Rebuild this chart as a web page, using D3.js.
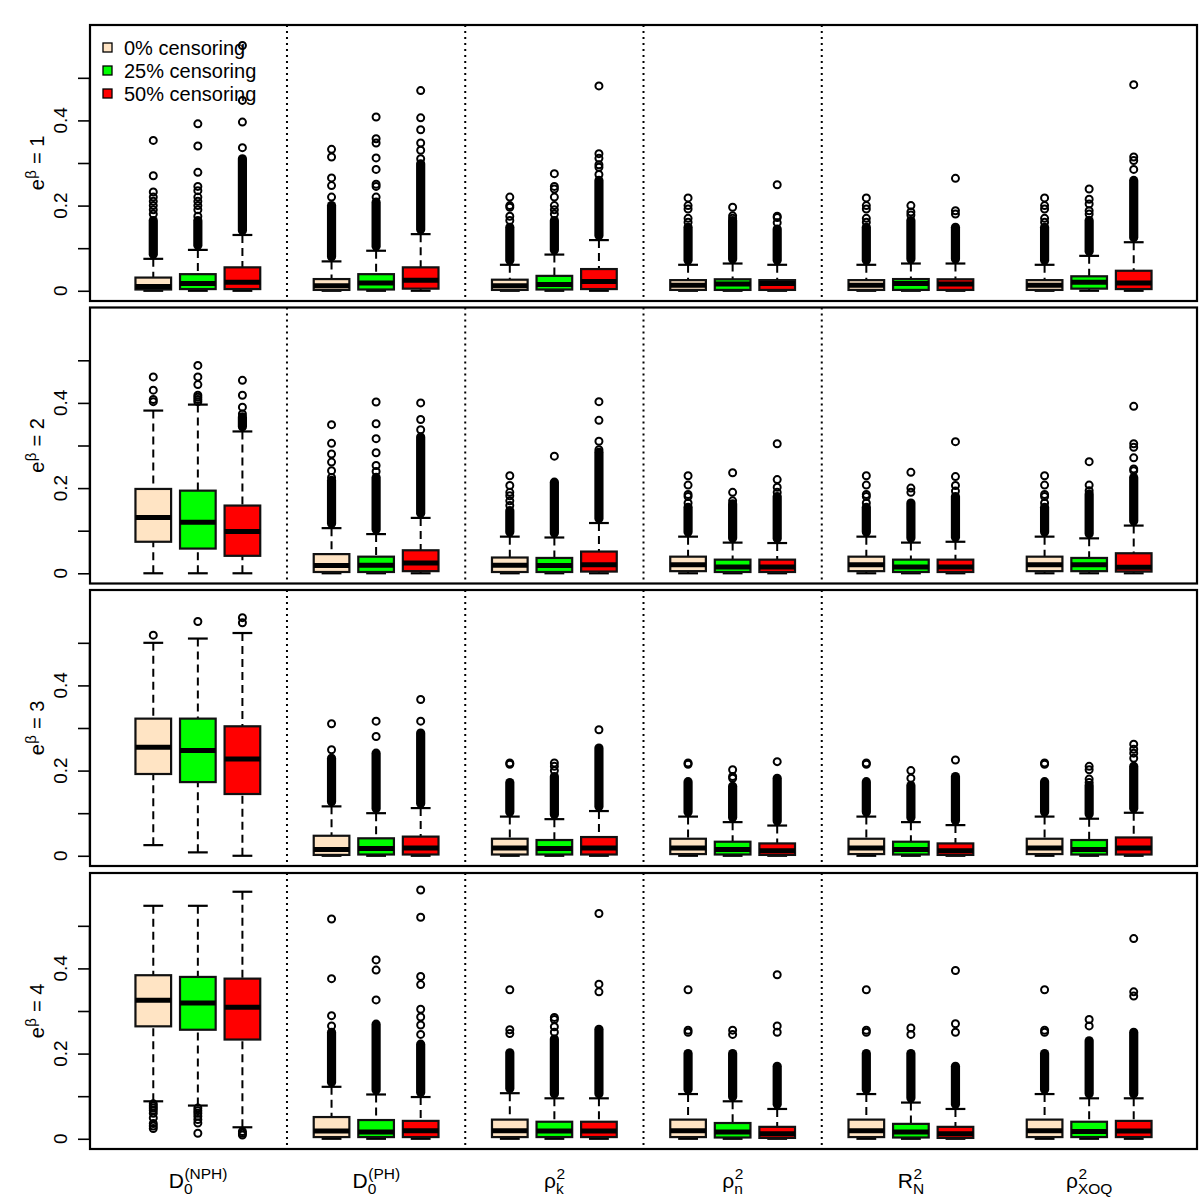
<!DOCTYPE html>
<html><head><meta charset="utf-8">
<script src="https://cdn.jsdelivr.net/npm/d3@7"></script>
<style>body{margin:0;background:#fff} svg{display:block}</style>
</head><body>
<svg id="chart" width="1200" height="1200"></svg>
<script>
// ---------- DATA ----------
const groupLabels = [
  {base: "D", sub: "0", sup: "(NPH)"},
  {base: "D", sub: "0", sup: "(PH)"},
  {base: "ρ", sub: "k", sup: "2"},
  {base: "ρ", sub: "n", sup: "2"},
  {base: "R", sub: "N", sup: "2"},
  {base: "ρ", sub: "XOQ", sup: "2"}
];
const censoringLabels = ["0% censoring", "25% censoring", "50% censoring"];
const panelValues = ["1", "2", "3", "4"];           // e^beta = value
const yTicks = [0, 0.1, 0.2, 0.3, 0.4, 0.5];
const yTickLabels = ["0", "", "0.2", "", "0.4", ""];

// per panel: 18 boxes = 6 statistics x 3 censoring levels
const lowerWhisker = [
  [0,0,0, 0,0,0, 0,0,0, 0,0,0, 0,0,0, 0,0,0],
  [0,0,0, 0,0,0, 0,0,0, 0,0,0, 0,0,0, 0,0,0],
  [0.025,0.008,0, 0,0,0, 0,0,0, 0,0,0, 0,0,0, 0,0,0],
  [0.088,0.078,0.027, 0,0,0, 0,0,0, 0,0,0, 0,0,0, 0,0,0]
];
const q1 = [
  [0.003,0.004,0.004, 0.002,0.003,0.005, 0.002,0.003,0.004, 0.002,0.002,0.002, 0.002,0.002,0.002, 0.002,0.005,0.004],
  [0.074,0.058,0.041, 0.003,0.003,0.005, 0.003,0.003,0.004, 0.005,0.003,0.003, 0.005,0.003,0.003, 0.005,0.005,0.004],
  [0.192,0.173,0.145, 0.002,0.003,0.003, 0.003,0.003,0.003, 0.004,0.003,0.002, 0.004,0.003,0.002, 0.004,0.003,0.003],
  [0.264,0.256,0.233, 0.004,0.004,0.004, 0.004,0.004,0.004, 0.004,0.003,0.002, 0.004,0.003,0.002, 0.004,0.004,0.004]
];
const medians = [
  [0.010,0.017,0.020, 0.012,0.018,0.025, 0.012,0.015,0.022, 0.013,0.016,0.017, 0.013,0.017,0.016, 0.013,0.020,0.018],
  [0.131,0.120,0.098, 0.018,0.019,0.024, 0.019,0.018,0.020, 0.020,0.015,0.015, 0.020,0.015,0.015, 0.020,0.020,0.014],
  [0.255,0.247,0.227, 0.015,0.017,0.018, 0.018,0.017,0.018, 0.018,0.015,0.012, 0.018,0.015,0.012, 0.018,0.015,0.018],
  [0.325,0.319,0.309, 0.018,0.016,0.019, 0.019,0.018,0.018, 0.019,0.016,0.012, 0.019,0.016,0.012, 0.019,0.017,0.018]
];
const q3 = [
  [0.031,0.039,0.055, 0.0275,0.039,0.055, 0.026,0.035,0.051, 0.025,0.027,0.025, 0.025,0.0275,0.027, 0.025,0.034,0.047],
  [0.198,0.194,0.159, 0.045,0.039,0.054, 0.037,0.036,0.051, 0.039,0.032,0.032, 0.039,0.032,0.032, 0.039,0.036,0.047],
  [0.322,0.322,0.304, 0.047,0.041,0.045, 0.040,0.037,0.044, 0.040,0.033,0.029, 0.040,0.033,0.029, 0.040,0.037,0.043],
  [0.384,0.380,0.376, 0.051,0.044,0.042, 0.045,0.040,0.040, 0.045,0.037,0.028, 0.045,0.035,0.028, 0.045,0.040,0.042]
];
const upperWhisker = [
  [0.075,0.096,0.131, 0.069,0.094,0.133, 0.061,0.085,0.119, 0.061,0.064,0.061, 0.061,0.064,0.064, 0.061,0.082,0.114],
  [0.382,0.396,0.333, 0.106,0.092,0.130, 0.086,0.084,0.118, 0.086,0.072,0.071, 0.086,0.072,0.074, 0.086,0.082,0.112],
  [0.500,0.510,0.523, 0.116,0.100,0.112, 0.092,0.086,0.105, 0.092,0.079,0.071, 0.092,0.079,0.072, 0.092,0.087,0.101],
  [0.547,0.547,0.580, 0.122,0.104,0.098, 0.107,0.095,0.095, 0.105,0.088,0.070, 0.105,0.085,0.070, 0.105,0.095,0.095]
];
// top of the continuous run of outliers above the upper whisker (null = none)
const denseOutlierTop = [
  [0.165,0.165,0.310, 0.200,0.208,0.298, 0.149,0.165,0.259, 0.149,0.165,0.145, 0.149,0.165,0.149, 0.149,0.165,0.259],
  [null,null,0.367, 0.218,0.225,0.320, 0.147,0.214,0.284, 0.155,0.163,0.180, 0.155,0.165,0.180, 0.155,0.186,0.225],
  [null,null,null, 0.229,0.241,0.288, 0.172,0.186,0.253, 0.174,0.163,0.182, 0.174,0.165,0.186, 0.174,0.165,0.210],
  [null,null,null, 0.250,0.269,0.222, 0.202,0.234,0.257, 0.200,0.200,0.170, 0.200,0.200,0.170, 0.200,0.230,0.250]
];
// isolated outliers
const outliers = [
  [
    [0.18,0.19,0.2,0.21,0.22,0.232,0.27,0.353], [0.175,0.19,0.2,0.21,0.22,0.235,0.245,0.278,0.34,0.392], [0.336,0.396,0.447,0.576],
    [0.22,0.247,0.265,0.314,0.332], [0.22,0.245,0.25,0.285,0.312,0.347,0.357,0.408], [0.31,0.33,0.347,0.378,0.406,0.47],
    [0.165,0.175,0.196,0.2,0.22], [0.18,0.19,0.2,0.22,0.239,0.245,0.275], [0.273,0.29,0.296,0.311,0.322,0.481],
    [0.161,0.17,0.192,0.2,0.218], [0.17,0.176,0.196], [0.16,0.172,0.175,0.249],
    [0.161,0.17,0.192,0.2,0.218], [0.178,0.185,0.2], [0.18,0.188,0.264],
    [0.161,0.17,0.192,0.2,0.218], [0.18,0.188,0.204,0.215,0.239], [0.285,0.306,0.314,0.484]
  ],
  [
    [0.403,0.408,0.43,0.461], [0.403,0.408,0.413,0.418,0.443,0.461,0.488], [0.374,0.39,0.418,0.453],
    [0.225,0.241,0.261,0.28,0.305,0.349], [0.239,0.253,0.283,0.316,0.351,0.402], [0.337,0.361,0.4],
    [0.159,0.17,0.182,0.19,0.206,0.229], [0.275], [0.29,0.31,0.359,0.403],
    [0.165,0.18,0.185,0.207,0.229], [0.17,0.19,0.236], [0.19,0.202,0.22,0.304],
    [0.165,0.18,0.185,0.207,0.229], [0.19,0.2,0.237], [0.193,0.206,0.227,0.309],
    [0.165,0.18,0.185,0.207,0.229], [0.194,0.207,0.262], [0.241,0.245,0.271,0.296,0.304,0.392]
  ],
  [
    [0.518], [0.55], [0.547,0.559],
    [0.249,0.31], [0.28,0.316], [0.316,0.367],
    [0.215,0.218], [0.2,0.21,0.218], [0.296],
    [0.215,0.218], [0.182,0.186,0.202], [0.221],
    [0.215,0.218], [0.182,0.2], [0.225],
    [0.215,0.218], [0.172,0.18,0.202,0.21], [0.229,0.241,0.25,0.262]
  ],
  [
    [0.082,0.077,0.072,0.067,0.06,0.049,0.036,0.03,0.024], [0.072,0.066,0.06,0.053,0.045,0.037,0.013], [0.017,0.013,0.009],
    [0.265,0.289,0.376,0.516], [0.326,0.396,0.42], [0.245,0.267,0.286,0.304,0.362,0.381,0.52,0.584],
    [0.247,0.256,0.35], [0.25,0.263,0.28,0.285], [0.345,0.363,0.529],
    [0.25,0.255,0.35], [0.245,0.255], [0.25,0.265,0.385],
    [0.25,0.255,0.35], [0.245,0.26], [0.25,0.27,0.395],
    [0.25,0.255,0.35], [0.265,0.28], [0.335,0.345,0.47]
  ]
];

// ---------- STYLE / LAYOUT ----------
const colors = ["#FFE4C4", "#00FF00", "#FF0000"];
const FONT = "'Liberation Sans', Arial, Helvetica, sans-serif";
const left = 90, right = 1197;
const panelTops = [25, 307.5, 590, 873];
const panelH = 276;

const svg = d3.select("#chart");
svg.append("rect").attr("width", 1200).attr("height", 1200).attr("fill", "#fff");

const x = d3.scaleLinear().domain([-0.42, 24.42]).range([left, right]);
const boxHalf = (x(0.4) - x(0));
const capHalf = boxHalf / 2 + 1;

function mathLabel(parent, base, sub, sup, fs, sfs, subDy, supDy) {
  const g = parent.append("g");
  const t = g.append("text").attr("font-family", FONT).attr("font-size", fs).attr("x", 0).attr("y", 0).text(base);
  const w = t.node().getComputedTextLength();
  let ws = 0, wp = 0;
  if (sub) {
    const s = g.append("text").attr("font-family", FONT).attr("font-size", sfs).attr("x", w).attr("y", subDy).text(sub);
    ws = s.node().getComputedTextLength();
  }
  if (sup) {
    const s = g.append("text").attr("font-family", FONT).attr("font-size", sfs).attr("x", w + 0.5).attr("y", supDy).text(sup);
    wp = s.node().getComputedTextLength();
  }
  return {g, width: w + Math.max(ws, wp)};
}

panelTops.forEach((top, p) => {
  const y = d3.scaleLinear().domain([-0.024, 0.624]).range([top + panelH, top]);
  const pg = svg.append("g");

  // dotted separators
  [4, 8, 12, 16].forEach(pos => {
    pg.append("line").attr("x1", x(pos)).attr("x2", x(pos))
      .attr("y1", top).attr("y2", top + panelH)
      .attr("stroke", "#000").attr("stroke-width", 2).attr("stroke-dasharray", "2,4");
  });

  // boxplots
  for (let gi = 0; gi < 6; gi++) {
    for (let c = 0; c < 3; c++) {
      const i = gi * 3 + c;
      const cx = x(4 * gi + c + 1);
      const bg = pg.append("g");
      const lo = lowerWhisker[p][i], a = q1[p][i], m = medians[p][i], b = q3[p][i], hi = upperWhisker[p][i];
      // whiskers (dashed)
      bg.append("line").attr("x1", cx).attr("x2", cx).attr("y1", y(hi)).attr("y2", y(b))
        .attr("stroke", "#000").attr("stroke-width", 2).attr("stroke-dasharray", "8,5");
      bg.append("line").attr("x1", cx).attr("x2", cx).attr("y1", y(lo)).attr("y2", y(a))
        .attr("stroke", "#000").attr("stroke-width", 2).attr("stroke-dasharray", "8,5");
      // caps
      [hi, lo].forEach(v => {
        bg.append("line").attr("x1", cx - capHalf).attr("x2", cx + capHalf).attr("y1", y(v)).attr("y2", y(v))
          .attr("stroke", "#000").attr("stroke-width", 2.2);
      });
      // box
      bg.append("rect").attr("x", cx - boxHalf).attr("y", y(b)).attr("width", 2 * boxHalf)
        .attr("height", Math.max(0, y(a) - y(b)))
        .attr("fill", colors[c]).attr("stroke", "#111").attr("stroke-width", 2.2);
      // median
      bg.append("line").attr("x1", cx - boxHalf).attr("x2", cx + boxHalf).attr("y1", y(m)).attr("y2", y(m))
        .attr("stroke", "#000").attr("stroke-width", 5);
      // dense outlier run
      const dt = denseOutlierTop[p][i];
      if (dt != null) {
        bg.append("rect").attr("x", cx - 4.6).attr("y", y(dt) - 4.6).attr("width", 9.2)
          .attr("height", y(hi) - y(dt) + 4.6).attr("rx", 4.6).attr("fill", "#000");
      }
      // isolated outliers
      bg.selectAll("circle.o").data(outliers[p][i]).enter().append("circle")
        .attr("cx", cx).attr("cy", d => y(d)).attr("r", 3.5)
        .attr("fill", "none").attr("stroke", "#000").attr("stroke-width", 2);
    }
  }

  // y axis ticks
  const axis = d3.axisLeft(y).tickValues(yTicks).tickSize(12).tickSizeOuter(0).tickFormat("");
  const ag = pg.append("g").attr("transform", `translate(${left},0)`).call(axis);
  ag.select(".domain").attr("stroke-width", 1.5).attr("d", `M-0.5,${y(0)}V${y(0.5)}`);
  ag.selectAll(".tick line").attr("stroke-width", 1.6);
  yTicks.forEach((t, k) => {
    if (!yTickLabels[k]) return;
    pg.append("text").attr("transform", `translate(66.5,${y(t)}) rotate(-90)`)
      .attr("text-anchor", "middle").attr("font-family", FONT).attr("font-size", 19).text(yTickLabels[k]);
  });

  // y title: e^beta = value
  const cy = top + panelH / 2;
  const tg = pg.append("g");
  const e = tg.append("text").attr("font-family", FONT).attr("font-size", 20).attr("x", 0).attr("y", 0).text("e");
  const we = e.node().getComputedTextLength();
  const be = tg.append("text").attr("font-family", FONT).attr("font-size", 15).attr("x", we + 0.5).attr("y", -8).text("β");
  const wb = be.node().getComputedTextLength();
  const rest = tg.append("text").attr("font-family", FONT).attr("font-size", 20).attr("x", we + wb + 1).attr("y", 0)
    .attr("xml:space", "preserve").text(" = " + panelValues[p]);
  const tot = we + wb + 1 + rest.node().getComputedTextLength();
  tg.attr("transform", `translate(44,${cy}) rotate(-90) translate(${-tot / 2},0)`);

  // frame
  pg.append("rect").attr("x", left).attr("y", top).attr("width", right - left).attr("height", panelH)
    .attr("fill", "none").attr("stroke", "#000").attr("stroke-width", 2.2);
});

// x labels
groupLabels.forEach((lab, gi) => {
  const cx = x(4 * gi + 2);
  const r = mathLabel(svg, lab.base, lab.sub, lab.sup, 21, 15.5, 6, -9.5);
  r.g.attr("transform", `translate(${cx - r.width / 2},1188)`);
});

// legend
const lg = svg.append("g");
censoringLabels.forEach((lab, k) => {
  const cyL = 47.5 + k * 23;
  lg.append("rect").attr("x", 103).attr("y", cyL - 4.5).attr("width", 9).attr("height", 9)
    .attr("fill", colors[k]).attr("stroke", "#000").attr("stroke-width", 1.3);
  lg.append("text").attr("x", 124).attr("y", cyL + 7).attr("font-family", FONT).attr("font-size", 20).text(lab);
});
</script>
</body></html>
